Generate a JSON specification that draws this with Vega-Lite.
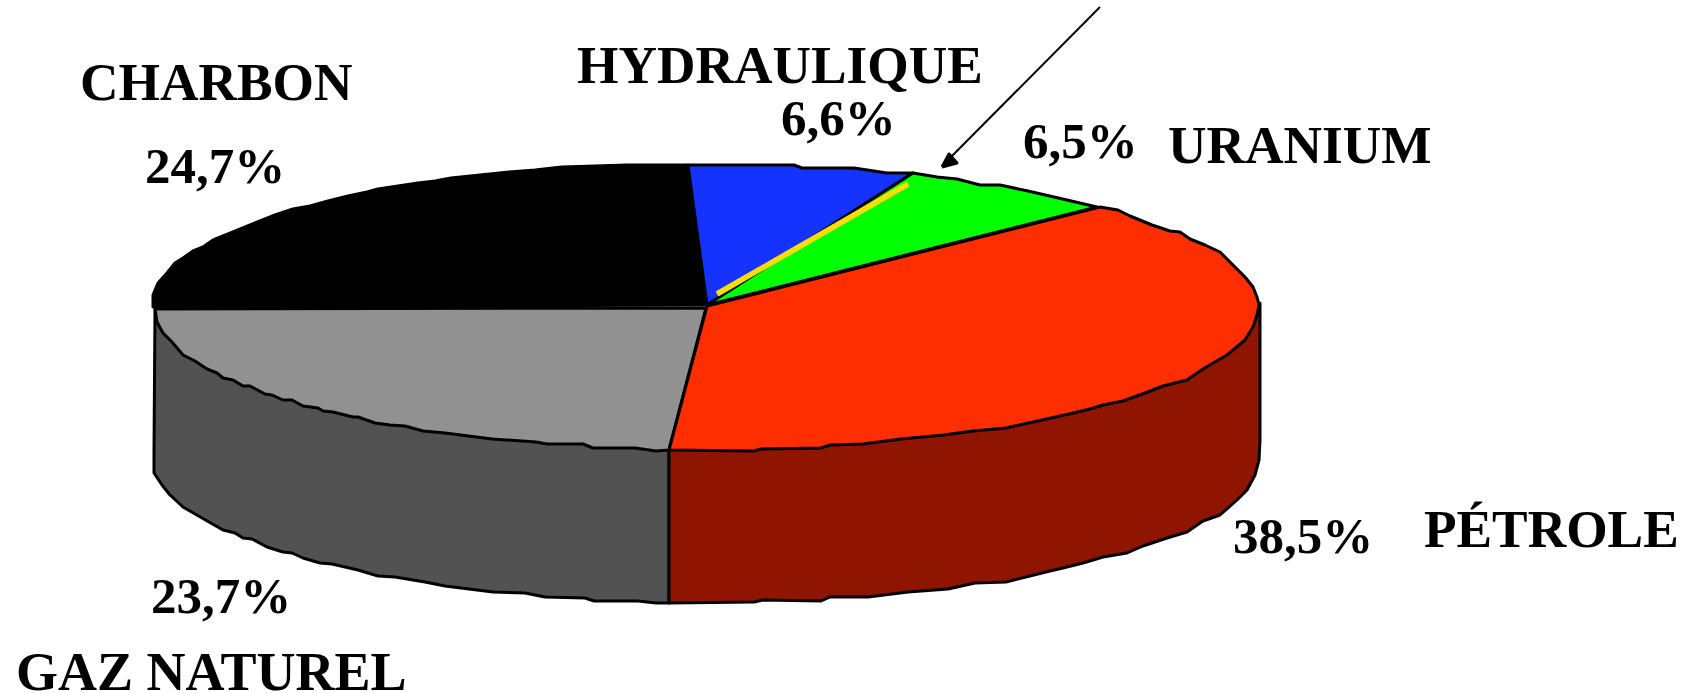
{"$schema":"https://vega.github.io/schema/vega-lite/v6.json","autosize":{"type":"none"},"width":1691,"height":693,"padding":0,"background":"white","view":{"stroke":null},
"datasets":{"shapes":[
{"s":"wallGaz","x":155,"y":309},{"s":"wallGaz","x":154,"y":450},{"s":"wallGaz","x":154,"y":473},{"s":"wallGaz","x":162,"y":485},{"s":"wallGaz","x":170,"y":495},{"s":"wallGaz","x":183,"y":507},{"s":"wallGaz","x":202,"y":518},{"s":"wallGaz","x":223,"y":530},{"s":"wallGaz","x":235,"y":533},{"s":"wallGaz","x":243,"y":538},{"s":"wallGaz","x":252,"y":539},{"s":"wallGaz","x":267,"y":547},{"s":"wallGaz","x":283,"y":552},{"s":"wallGaz","x":292,"y":553},{"s":"wallGaz","x":303,"y":558},{"s":"wallGaz","x":320,"y":563},{"s":"wallGaz","x":332,"y":564},{"s":"wallGaz","x":358,"y":570},{"s":"wallGaz","x":378,"y":576},{"s":"wallGaz","x":395,"y":577},{"s":"wallGaz","x":425,"y":582},{"s":"wallGaz","x":445,"y":586},{"s":"wallGaz","x":493,"y":592},{"s":"wallGaz","x":525,"y":593},{"s":"wallGaz","x":545,"y":597},{"s":"wallGaz","x":585,"y":598},{"s":"wallGaz","x":594,"y":601},{"s":"wallGaz","x":638,"y":601},{"s":"wallGaz","x":656,"y":603},{"s":"wallGaz","x":669,"y":603},{"s":"wallGaz","x":669,"y":450},{"s":"wallGaz","x":155,"y":309},
{"s":"wallPetrole","x":669,"y":450},{"s":"wallPetrole","x":669,"y":603},{"s":"wallPetrole","x":754,"y":602},{"s":"wallPetrole","x":763,"y":600},{"s":"wallPetrole","x":821,"y":601},{"s":"wallPetrole","x":830,"y":597},{"s":"wallPetrole","x":868,"y":597},{"s":"wallPetrole","x":908,"y":592},{"s":"wallPetrole","x":948,"y":589},{"s":"wallPetrole","x":975,"y":583},{"s":"wallPetrole","x":1006,"y":582},{"s":"wallPetrole","x":1050,"y":571},{"s":"wallPetrole","x":1063,"y":568},{"s":"wallPetrole","x":1083,"y":563},{"s":"wallPetrole","x":1103,"y":557},{"s":"wallPetrole","x":1127,"y":553},{"s":"wallPetrole","x":1143,"y":546},{"s":"wallPetrole","x":1167,"y":538},{"s":"wallPetrole","x":1187,"y":532},{"s":"wallPetrole","x":1203,"y":521},{"s":"wallPetrole","x":1220,"y":515},{"s":"wallPetrole","x":1237,"y":500},{"s":"wallPetrole","x":1247,"y":490},{"s":"wallPetrole","x":1255,"y":475},{"s":"wallPetrole","x":1259,"y":460},{"s":"wallPetrole","x":1260,"y":440},{"s":"wallPetrole","x":1260,"y":303},{"s":"wallPetrole","x":669,"y":450},
{"s":"gaz","x":706,"y":308},{"s":"gaz","x":155,"y":309},{"s":"gaz","x":157,"y":322},{"s":"gaz","x":163,"y":333},{"s":"gaz","x":172,"y":342},{"s":"gaz","x":183,"y":355},{"s":"gaz","x":195,"y":361},{"s":"gaz","x":207,"y":369},{"s":"gaz","x":217,"y":373},{"s":"gaz","x":223,"y":378},{"s":"gaz","x":233,"y":380},{"s":"gaz","x":243,"y":386},{"s":"gaz","x":250,"y":386},{"s":"gaz","x":265,"y":394},{"s":"gaz","x":272,"y":395},{"s":"gaz","x":283,"y":400},{"s":"gaz","x":292,"y":400},{"s":"gaz","x":303,"y":406},{"s":"gaz","x":318,"y":408},{"s":"gaz","x":323,"y":411},{"s":"gaz","x":333,"y":412},{"s":"gaz","x":353,"y":417},{"s":"gaz","x":358,"y":417},{"s":"gaz","x":375,"y":423},{"s":"gaz","x":390,"y":425},{"s":"gaz","x":405,"y":426},{"s":"gaz","x":423,"y":431},{"s":"gaz","x":445,"y":433},{"s":"gaz","x":492,"y":439},{"s":"gaz","x":536,"y":442},{"s":"gaz","x":547,"y":444},{"s":"gaz","x":583,"y":444},{"s":"gaz","x":593,"y":448},{"s":"gaz","x":635,"y":448},{"s":"gaz","x":656,"y":451},{"s":"gaz","x":669,"y":450},{"s":"gaz","x":706,"y":308},
{"s":"charbon","x":707,"y":305},{"s":"charbon","x":153,"y":307},{"s":"charbon","x":153,"y":295},{"s":"charbon","x":158,"y":283},{"s":"charbon","x":167,"y":273},{"s":"charbon","x":175,"y":263},{"s":"charbon","x":183,"y":258},{"s":"charbon","x":193,"y":251},{"s":"charbon","x":203,"y":247},{"s":"charbon","x":213,"y":240},{"s":"charbon","x":233,"y":232},{"s":"charbon","x":255,"y":223},{"s":"charbon","x":275,"y":215},{"s":"charbon","x":293,"y":209},{"s":"charbon","x":310,"y":206},{"s":"charbon","x":328,"y":201},{"s":"charbon","x":348,"y":196},{"s":"charbon","x":367,"y":192},{"s":"charbon","x":378,"y":189},{"s":"charbon","x":398,"y":186},{"s":"charbon","x":418,"y":183},{"s":"charbon","x":435,"y":181},{"s":"charbon","x":451,"y":178},{"s":"charbon","x":480,"y":175},{"s":"charbon","x":509,"y":172},{"s":"charbon","x":535,"y":170},{"s":"charbon","x":562,"y":167},{"s":"charbon","x":595,"y":166},{"s":"charbon","x":627,"y":165},{"s":"charbon","x":688,"y":165},{"s":"charbon","x":707,"y":305},
{"s":"hydraulique","x":707,"y":305},{"s":"hydraulique","x":688,"y":165},{"s":"hydraulique","x":794,"y":165},{"s":"hydraulique","x":802,"y":168},{"s":"hydraulique","x":854,"y":168},{"s":"hydraulique","x":887,"y":173},{"s":"hydraulique","x":913,"y":173},{"s":"hydraulique","x":707,"y":305},
{"s":"uranium","x":707,"y":305},{"s":"uranium","x":913,"y":173},{"s":"uranium","x":937,"y":177},{"s":"uranium","x":957,"y":179},{"s":"uranium","x":980,"y":185},{"s":"uranium","x":1000,"y":185},{"s":"uranium","x":1028,"y":191},{"s":"uranium","x":1067,"y":200},{"s":"uranium","x":1097,"y":207},{"s":"uranium","x":707,"y":305},
{"s":"petrole","x":707,"y":306},{"s":"petrole","x":669,"y":450},{"s":"petrole","x":754,"y":451},{"s":"petrole","x":761,"y":449},{"s":"petrole","x":821,"y":448},{"s":"petrole","x":830,"y":445},{"s":"petrole","x":863,"y":444},{"s":"petrole","x":901,"y":439},{"s":"petrole","x":944,"y":435},{"s":"petrole","x":973,"y":431},{"s":"petrole","x":1006,"y":428},{"s":"petrole","x":1033,"y":422},{"s":"petrole","x":1069,"y":414},{"s":"petrole","x":1090,"y":409},{"s":"petrole","x":1103,"y":405},{"s":"petrole","x":1123,"y":401},{"s":"petrole","x":1145,"y":393},{"s":"petrole","x":1163,"y":386},{"s":"petrole","x":1187,"y":380},{"s":"petrole","x":1203,"y":369},{"s":"petrole","x":1213,"y":363},{"s":"petrole","x":1227,"y":355},{"s":"petrole","x":1245,"y":340},{"s":"petrole","x":1253,"y":327},{"s":"petrole","x":1257,"y":315},{"s":"petrole","x":1259,"y":305},{"s":"petrole","x":1257,"y":297},{"s":"petrole","x":1253,"y":287},{"s":"petrole","x":1245,"y":277},{"s":"petrole","x":1230,"y":262},{"s":"petrole","x":1220,"y":252},{"s":"petrole","x":1205,"y":245},{"s":"petrole","x":1190,"y":239},{"s":"petrole","x":1180,"y":232},{"s":"petrole","x":1170,"y":231},{"s":"petrole","x":1152,"y":225},{"s":"petrole","x":1130,"y":216},{"s":"petrole","x":1118,"y":210},{"s":"petrole","x":1100,"y":207},{"s":"petrole","x":707,"y":306},
{"s":"head","x":942,"y":167},{"s":"head","x":949,"y":154},{"s":"head","x":957,"y":163},{"s":"head","x":942,"y":167}
]},
"layer":[
{"data":{"name":"shapes"},"mark":{"type":"line","stroke":"black","strokeWidth":3,"strokeJoin":"round"},
"encoding":{"x":{"field":"x","type":"quantitative","scale":{"domain":[0,1691]},"axis":null},"y":{"field":"y","type":"quantitative","scale":{"domain":[693,0]},"axis":null},"order":{"field":"i","type":"quantitative"},"fill":{"field":"s","type":"nominal","legend":null,"scale":{"domain":["wallGaz","wallPetrole","gaz","charbon","hydraulique","uranium","petrole","head"],"range":["#525252","#8F1500","#919191","#000000","#1433FF","#00FF00","#FF2E00","#000000"]}}},
"transform":[{"window":[{"op":"row_number","as":"i"}]}]},
{"data":{"values":[{"x":717,"y":294},{"x":908,"y":184}]},"mark":{"type":"line","stroke":"#FFDD00","strokeWidth":5.5},"encoding":{"x":{"field":"x","type":"quantitative","scale":{"domain":[0,1691]},"axis":null},"y":{"field":"y","type":"quantitative","scale":{"domain":[693,0]},"axis":null}}},
{"data":{"values":[{"x":1100,"y":7},{"x":948,"y":160}]},"mark":{"type":"line","stroke":"black","strokeWidth":2},"encoding":{"x":{"field":"x","type":"quantitative","scale":{"domain":[0,1691]},"axis":null},"y":{"field":"y","type":"quantitative","scale":{"domain":[693,0]},"axis":null}}},
{"data":{"values":[{"t":"CHARBON","x":80,"y":100},{"t":"HYDRAULIQUE","x":577,"y":83},{"t":"URANIUM","x":1168,"y":163},{"t":"PÉTROLE","x":1424,"y":547}]},"mark":{"type":"text","font":"Liberation Serif","fontWeight":"bold","fontSize":53.3,"align":"left","baseline":"alphabetic","color":"black"},"encoding":{"x":{"field":"x","type":"quantitative","scale":{"domain":[0,1691]},"axis":null},"y":{"field":"y","type":"quantitative","scale":{"domain":[693,0]},"axis":null},"text":{"field":"t","type":"nominal"}}},
{"data":{"values":[{"t":"GAZ NATUREL","x":16,"y":690}]},"mark":{"type":"text","font":"Liberation Serif","fontWeight":"bold","fontSize":54,"align":"left","baseline":"alphabetic","color":"black"},"encoding":{"x":{"field":"x","type":"quantitative","scale":{"domain":[0,1691]},"axis":null},"y":{"field":"y","type":"quantitative","scale":{"domain":[693,0]},"axis":null},"text":{"field":"t","type":"nominal"}}},
{"data":{"values":[{"t":"24,7%","x":145,"y":183},{"t":"6,6%","x":781,"y":135},{"t":"6,5%","x":1023,"y":158},{"t":"38,5%","x":1233,"y":553},{"t":"23,7%","x":151,"y":613}]},"mark":{"type":"text","font":"Liberation Serif","fontWeight":"bold","fontSize":51,"align":"left","baseline":"alphabetic","color":"black"},"encoding":{"x":{"field":"x","type":"quantitative","scale":{"domain":[0,1691]},"axis":null},"y":{"field":"y","type":"quantitative","scale":{"domain":[693,0]},"axis":null},"text":{"field":"t","type":"nominal"}}}
]}
